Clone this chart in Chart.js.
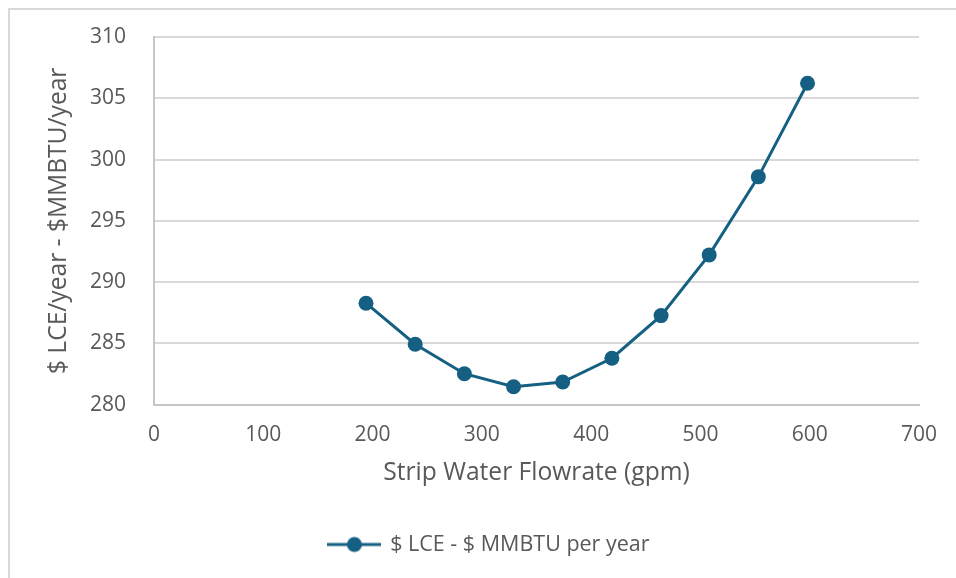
<!DOCTYPE html>
<html>
<head>
<meta charset="utf-8">
<script src="https://cdn.jsdelivr.net/npm/chart.js@4.4.1/dist/chart.umd.min.js"></script>
<style>
  html, body { margin: 0; padding: 0; background: #ffffff; }
  #wrap { position: relative; width: 956px; height: 578px; }
  canvas { display: block; }
</style>
</head>
<body>
<div id="wrap"><canvas id="chart" width="956" height="578"></canvas></div>
<script>
// Strip water flowrate (gpm) and the resulting yearly value
const flowrates = [194, 239, 284, 329, 374, 419, 464, 508, 553, 598];
const values = [288.28, 284.93, 282.53, 281.47, 281.85, 283.79, 287.27, 292.22, 298.59, 306.23];
const seriesLabel = '$ LCE - $ MMBTU per year';
const xTitle = 'Strip Water Flowrate (gpm)';
const yTitle = '$ LCE/year - $MMBTU/year';
const xRange = [0, 700];
const yRange = [280, 310];

const lineColor = '#156082';
const textColor = '#595959';
const gridColor = '#d9d9d9';
const axisColor = '#c6c6c6';
const fontFamily = '"Open Sans", "Liberation Sans", sans-serif';

// Legend symbol: short line with a dot in the middle
function legendSymbol() {
  const c = document.createElement('canvas');
  c.width = 54; c.height = 18;
  const g = c.getContext('2d');
  g.strokeStyle = lineColor;
  g.lineWidth = 3;
  g.beginPath(); g.moveTo(0, 9); g.lineTo(54, 9); g.stroke();
  g.fillStyle = lineColor;
  g.beginPath(); g.arc(27, 9, 7.5, 0, Math.PI * 2); g.fill();
  return c;
}
const symbol = legendSymbol();

// Thin frame around the chart object
const framePlugin = {
  id: 'frame',
  beforeDraw(chart) {
    const ctx = chart.ctx;
    ctx.save();
    ctx.fillStyle = '#ffffff';
    ctx.fillRect(0, 0, chart.width, chart.height);
    ctx.strokeStyle = gridColor;
    ctx.lineWidth = 2;
    ctx.strokeRect(9, 9, chart.width + 20, chart.height + 20);
    ctx.restore();
  }
};

const points = flowrates.map((x, i) => ({ x: x, y: values[i] }));

new Chart(document.getElementById('chart'), {
  type: 'line',
  data: {
    datasets: [{
      label: seriesLabel,
      data: points,
      borderColor: lineColor,
      backgroundColor: lineColor,
      borderWidth: 3,
      pointRadius: 7.5,
      pointHoverRadius: 7.5,
      pointBackgroundColor: lineColor,
      pointBorderColor: lineColor,
      pointBorderWidth: 0,
      tension: 0,
      fill: false
    }]
  },
  options: {
    responsive: false,
    animation: false,
    devicePixelRatio: 1,
    layout: { padding: { left: 60, right: 37, top: 37, bottom: 12.8 } },
    plugins: {
      tooltip: { enabled: false },
      legend: {
        position: 'bottom',
        labels: {
          usePointStyle: true,
          pointStyleWidth: 50,
          padding: 10,
          color: textColor,
          font: { family: fontFamily, size: 21.5 },
          generateLabels(chart) {
            return chart.data.datasets.map((ds, i) => ({
              text: ds.label,
              pointStyle: symbol,
              fillStyle: lineColor,
              strokeStyle: lineColor,
              lineWidth: 0,
              fontColor: textColor,
              hidden: false,
              datasetIndex: i
            }));
          }
        }
      }
    },
    scales: {
      x: {
        type: 'linear',
        min: xRange[0],
        max: xRange[1],
        afterFit(scale) { scale.height = 119; },
        ticks: {
          stepSize: 100,
          padding: 18,
          color: textColor,
          font: { family: fontFamily, size: 21 }
        },
        grid: { display: false, drawTicks: false },
        border: { display: true, color: axisColor, width: 2 },
        title: {
          display: true,
          text: xTitle,
          color: textColor,
          font: { family: fontFamily, size: 24.6 },
          padding: { top: 0, bottom: 36.3 }
        }
      },
      y: {
        min: yRange[0],
        max: yRange[1],
        afterFit(scale) { scale.width = 94; },
        ticks: {
          stepSize: 5,
          padding: 2,
          color: textColor,
          font: { family: fontFamily, size: 21 }
        },
        grid: { color: gridColor, lineWidth: 2, drawTicks: true, tickLength: 26, tickColor: 'rgba(0,0,0,0)' },
        border: { display: true, color: axisColor, width: 2 },
        title: {
          display: true,
          text: yTitle,
          color: textColor,
          font: { family: fontFamily, size: 24.6 },
          padding: { top: -15.8, bottom: 0 }
        }
      }
    }
  },
  plugins: [framePlugin]
});
</script>
</body>
</html>
